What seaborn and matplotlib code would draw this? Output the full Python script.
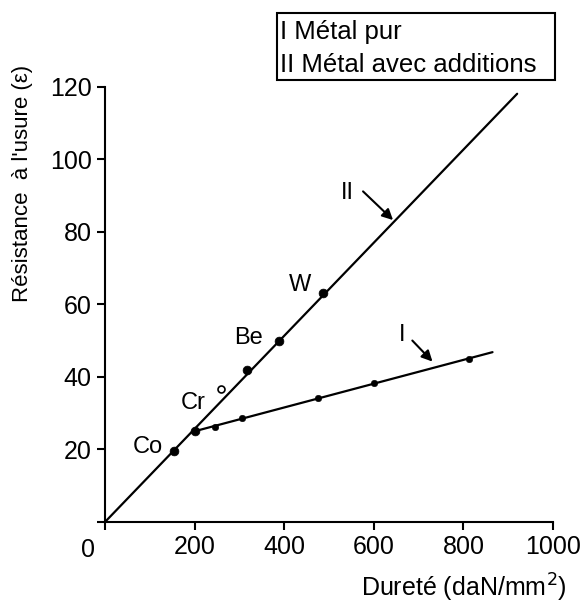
import matplotlib
matplotlib.use('Agg')
import matplotlib.pyplot as plt
import seaborn as sns
import pandas as pd
from matplotlib.patches import Rectangle

# line II (metal with additions) and line I (pure metal), end points
line2_x = [0, 920]
line2_y = [0, 118]
line1_x = [200, 865]
line1_y = [25, 46.8]

# measured points
pts2_x = [154, 200, 318, 388, 486]
pts2_y = [19.6, 25, 42, 50, 63]
pts1_x = [245, 305, 476, 600, 813]
pts1_y = [26.3, 28.7, 34.1, 38.3, 45]
cr_x = [260]
cr_y = [36.7]

elem_names = ['Co', 'Cr', 'Be', 'W']
elem_x = [96, 196, 320, 435]
elem_y = [20.7, 32.8, 50.7, 65.4]

xticks = [0, 200, 400, 600, 800, 1000]
yticks = [0, 20, 40, 60, 80, 100, 120]

sns.set_theme(style='ticks')
plt.rcParams['font.family'] = ['Liberation Sans', 'DejaVu Sans']
plt.rcParams['text.color'] = 'black'
plt.rcParams['axes.labelcolor'] = 'black'

fig = plt.figure(figsize=(5.81, 6.05), dpi=100)
ax = fig.add_axes([0.1807, 0.1372, 0.7711, 0.7198])

sns.lineplot(x=line2_x, y=line2_y, ax=ax, color='black', linewidth=1.6)
sns.lineplot(x=line1_x, y=line1_y, ax=ax, color='black', linewidth=1.6)
sns.scatterplot(x=pts2_x, y=pts2_y, ax=ax, color='black', s=40, edgecolor='black')
sns.scatterplot(x=pts1_x, y=pts1_y, ax=ax, color='black', s=22, edgecolor='black')
sns.scatterplot(x=cr_x, y=cr_y, ax=ax, facecolor='white', s=25, edgecolor='black', linewidth=1.2)

for name, x, y in zip(elem_names, elem_x, elem_y):
    ax.text(x, y, name, fontsize=17, ha='center', va='center')

# curve labels with arrows
ax.text(542, 90.6, 'II', fontsize=17, ha='center', va='center')
ax.annotate('', xy=(643, 83.2), xytext=(576, 91.1),
            arrowprops=dict(arrowstyle='-|>', color='black', lw=1.5, mutation_scale=16,
                            shrinkA=0, shrinkB=0))
ax.text(664, 51.6, 'I', fontsize=17, ha='center', va='center')
ax.annotate('', xy=(731, 44.2), xytext=(686, 50),
            arrowprops=dict(arrowstyle='-|>', color='black', lw=1.5, mutation_scale=16,
                            shrinkA=0, shrinkB=0))

ax.set_xlim(0, 1000)
ax.set_ylim(0, 120)
ax.set_xticks(xticks)
ax.set_xticklabels(['', '200', '400', '600', '800', '1000'])
ax.set_yticks(yticks)
ax.set_yticklabels(['', '20', '40', '60', '80', '100', '120'])
ax.tick_params(direction='out', length=6, width=1.5, labelsize=18, colors='black')
ax.annotate('0', xy=(0, 0), xytext=(-12, -20), textcoords='offset points',
            fontsize=18, ha='center', va='center')
sns.despine(ax=ax)
for sp in ['left', 'bottom']:
    ax.spines[sp].set_linewidth(1.5)
    ax.spines[sp].set_color('black')

ax.set_xlabel('Dureté (daN/mm$^{2}$)', fontsize=18)
ax.xaxis.set_label_coords(0.80, -0.115)
ax.set_ylabel("Résistance  à l'usure (ε)", fontsize=16)
ax.yaxis.set_label_coords(-0.161, 0.778)

fig.patches.append(Rectangle((277 / 581, 1 - 80 / 605), 278 / 581, 67 / 605,
                             transform=fig.transFigure, fill=False, edgecolor='black', linewidth=1.5))
fig.text(280 / 581, 1 - 32 / 605, 'I Métal pur', fontsize=18.5, va='center')
fig.text(280 / 581, 1 - 65 / 605, 'II Métal avec additions', fontsize=18.5, va='center')

fig.savefig('out.png', dpi=100, facecolor='white')
